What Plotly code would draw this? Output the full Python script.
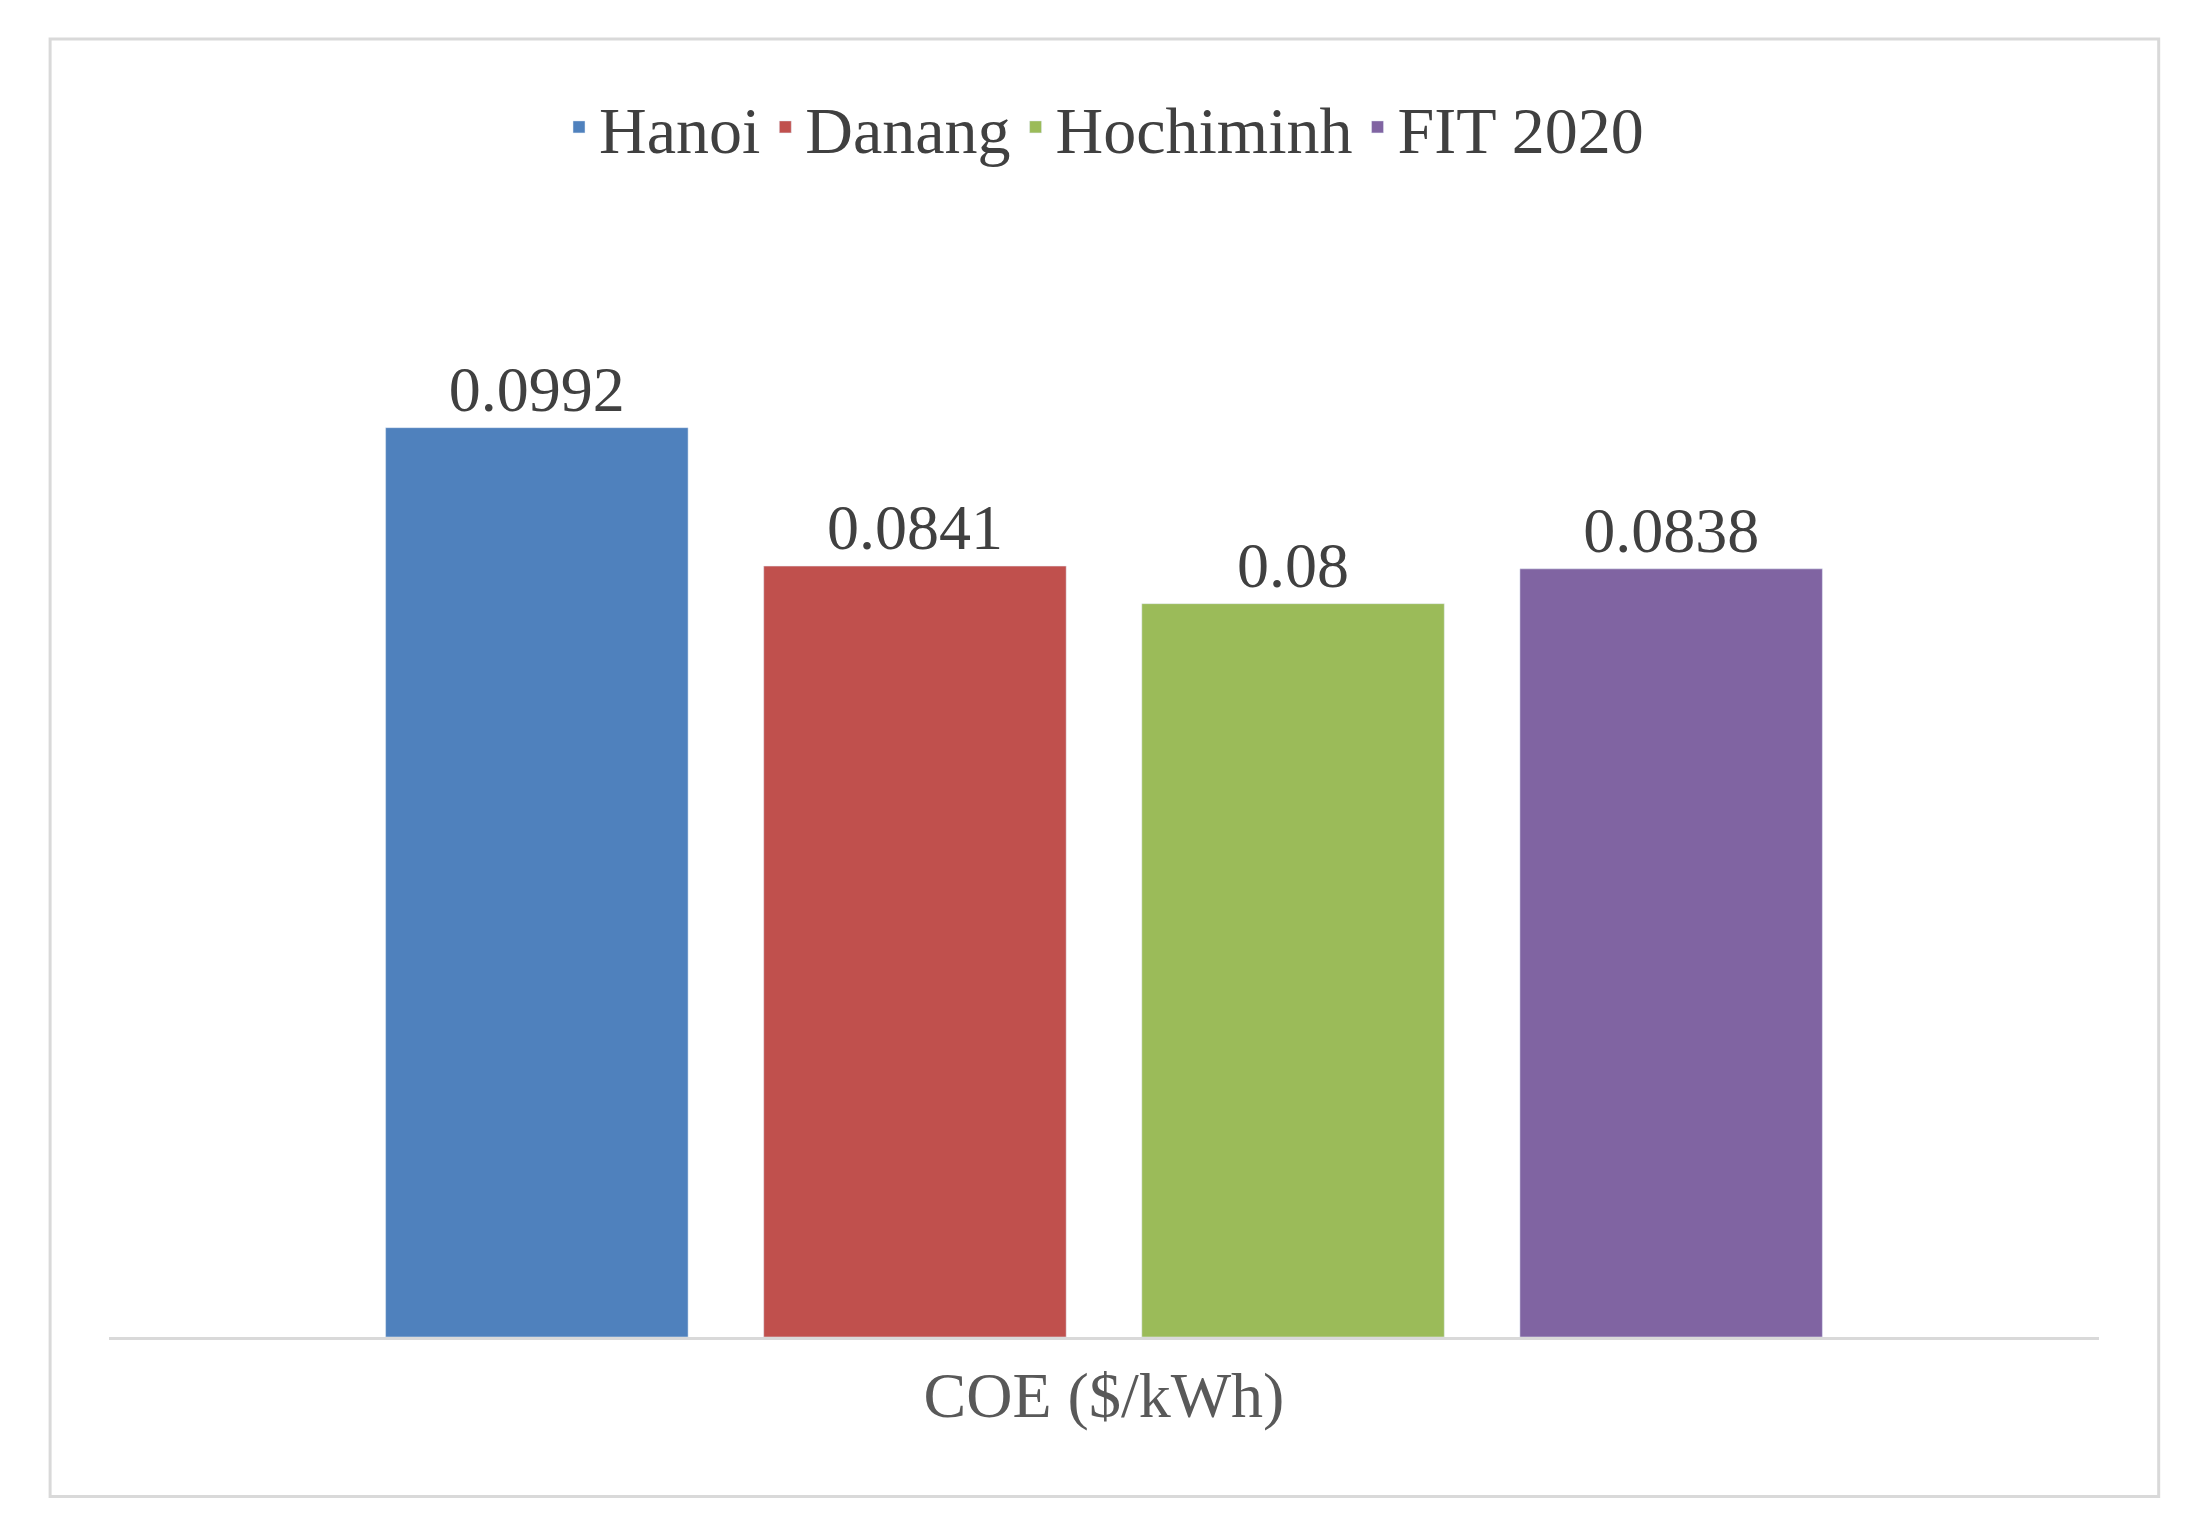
import plotly.graph_objects as go

# data
category = ["COE ($/kWh)"]
series = ["Hanoi", "Danang", "Hochiminh", "FIT 2020"]
values = [0.0992, 0.0841, 0.08, 0.0838]
labels = ["0.0992", "0.0841", "0.08", "0.0838"]
colors = ["#4F81BD", "#C0504D", "#9BBB59", "#8064A2"]

fig = go.Figure()
for name, v, lab, c in zip(series, values, labels, colors):
    fig.add_trace(go.Bar(
        x=category, y=[v], name=name, marker_color=c,
        text=[lab], textposition="outside", cliponaxis=False,
        textfont=dict(size=64, color="#404040"),
    ))

fig.update_layout(
    width=2193, height=1534,
    paper_bgcolor="white", plot_bgcolor="white",
    font=dict(family="Liberation Serif", color="#404040"),
    margin=dict(l=101, r=102, t=229, b=205),
    barmode="group", bargap=0.24, bargroupgap=0.2,
    legend=dict(orientation="h", x=0.5, xanchor="center", y=1.10, yanchor="middle",
                font=dict(size=66, color="#404040"), itemwidth=30, traceorder="normal"),
    xaxis=dict(showline=True, linecolor="#d9d9d9", linewidth=3,
               tickfont=dict(size=64, color="#595959"), ticks=""),
    yaxis=dict(range=[0, 0.12], visible=False, showgrid=False),
    shapes=[dict(type="rect", xref="paper", yref="paper",
                 x0=-0.0296, x1=1.030, y0=-0.145, y1=1.18,
                 line=dict(color="#d9d9d9", width=3))],
)

fig.write_html("out.html")
